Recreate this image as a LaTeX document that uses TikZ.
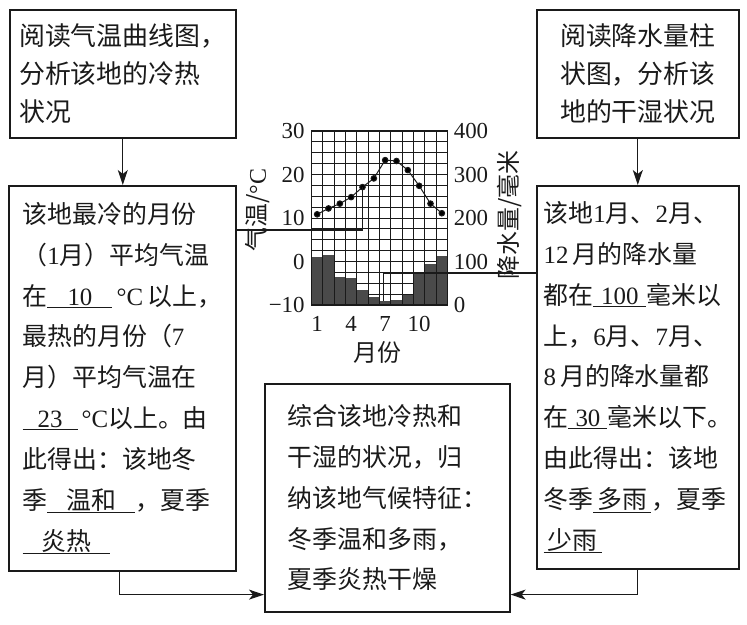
\documentclass[tikz,border=0pt]{standalone}
\usepackage{fontspec}
\setmainfont{Noto Sans CJK SC}
\newfontfamily\numfont{Liberation Serif}
\usetikzlibrary{arrows.meta}
\definecolor{ClimInk}{HTML}{1A1A1A}
\definecolor{ClimBar}{HTML}{4A4A4A}
\newcommand\dg[1]{{\numfont #1}}
\newcommand\gap[2]{\underline{\makebox[#1bp]{#2}}}
\tikzset{
  clim/box/.style={
    draw=ClimInk, line width=1.6bp, fill=white, text=ClimInk,
    anchor=north west, align=left, inner sep=0pt,
    font=\fontsize{25}{41}\selectfont
  },
  clim/task/.style={clim/box, font=\fontsize{26}{38}\selectfont},
  clim/arrow/.style={
    -{Stealth[length=15bp,width=10bp,inset=4bp]}, line width=1.2bp, draw=ClimInk
  },
  clim/link/.style={line width=1.2bp, draw=ClimInk},
  clim/grid/.style={line width=.8bp, draw=ClimInk},
  clim/tick/.style={font=\fontsize{23}{23}\selectfont\numfont, text=ClimInk, inner sep=1bp},
  clim/title/.style={font=\fontsize{24}{24}\selectfont, text=ClimInk, inner sep=0pt}
}

\begin{document}
\begin{tikzpicture}[x=1bp,y=-1bp]
  \useasboundingbox (0,0) rectangle (747,625);
  % the five boxes
  \node[clim/task,minimum width=226bp,minimum height=128bp] (readT) at (9,9)
    {阅读气温曲线图，\\分析该地的冷热\\状况};
  \node[clim/task,minimum width=202bp,minimum height=128bp] (readP) at (536,9)
    {阅读降水量柱\\状图，分析该\\地的干湿状况};
  \node[clim/box,minimum width=227bp,minimum height=385bp] (cold) at (8,185)
    {该地最冷的月份\\
     （\dg{1}月）平均气温\\
     在\gap{65}{\dg{10}}\,\dg{°C}\,以上，\\
     最热的月份（\dg{7}\\
     月）平均气温在\\
     \gap{55}{\dg{23}}\,\dg{°C}以上。由\\
     此得出：该地冬\\
     季\gap{88}{温和}，夏季\\
     \gap{87}{炎热}};
  \node[clim/box,minimum width=202bp,minimum height=383bp] (wet) at (536,185)
    {该地\dg{1}月、\dg{2}月、\\
     \dg{12}\,月的降水量\\
     都在\gap{53}{\dg{100}}毫米以\\
     上，\dg{6}月、\dg{7}月、\\
     \dg{8}\,月的降水量都\\
     在\gap{39}{\dg{30}}毫米以下。\\
     由此得出：该地\\
     冬季\gap{58}{多雨}，夏季\\
     \gap{58}{少雨}};
  \node[clim/box,minimum width=245bp,minimum height=228bp] (sum) at (264,383)
    {综合该地冷热和\\干湿的状况，归\\纳该地气候特征：\\冬季温和多雨，\\夏季炎热干燥};

  % climate chart
  \begin{scope}[shift={(311.5,305)},x=11.333bp,y=4.35bp]
    \foreach \k in {0,...,16}
      \draw[clim/grid] (0,\k*2.5) -- (12,\k*2.5);
    \foreach \p [count=\m] in {110,115,64,61,35,19,10,12,23,71,94,113}
      \fill[ClimBar] (\m-1,0) rectangle (\m,\p/10);
    \foreach \m in {0,...,12}
      \draw[clim/grid] (\m,0) -- (\m,40);
    \draw[line width=1.2bp,draw=ClimInk] (0,0) rectangle (12,40);
    \draw[line width=1bp,draw=ClimInk,mark size=2.8bp]
      plot[mark=*] coordinates {(0.5,20.85) (1.5,22.2) (2.5,23.3) (3.5,24.8)
        (4.5,27.1) (5.5,29.1) (6.5,33.3) (7.5,33.1) (8.5,31) (9.5,27.4)
        (10.5,23.3) (11.5,21.1)};
    \coordinate (t5) at (4.5,27.1);
    \coordinate (p7) at (6.35,1);
    \foreach \t [count=\i from 0] in {−10,0,10,20,30}
      \node[clim/tick,anchor=east] (tl\i) at (-0.5,\i*10) {\t};
    \foreach \p [count=\i from 0] in {0,100,200,300,400}
      \node[clim/tick,anchor=west] (pr\i) at (0.45+12,\i*10) {\p};
    \foreach \m in {1,4,7,10}
      \node[clim/tick,anchor=base] (mon\m) at (\m-0.5,-6.2) {\m};
    \node[clim/title] (mlab) at (5.8,-10.8) {月份};
    \node[clim/title,rotate=90] (tlab) at (-4.72,21.8) {气温/\dg{°C}};
    \node[clim/title,rotate=90] (plab) at (17.5,20.7) {降水量/毫米};
  \end{scope}

  % connectors
  \draw[clim/arrow] (readT.south) -- (readT.south |- cold.north);
  \draw[clim/arrow] (readP.south) -- (readP.south |- wet.north);
  \draw[clim/arrow] ([xshift=-3bp]cold.south) |- ([yshift=18bp]sum.south west);
  \draw[clim/arrow] (wet.south) |- ([yshift=18bp]sum.south east);
  \draw[clim/link] ([yshift=-45bp]cold.north east) -| (t5);
  \draw[clim/link] ([yshift=-88bp]wet.north west) -| (p7);
\end{tikzpicture}
\end{document}
